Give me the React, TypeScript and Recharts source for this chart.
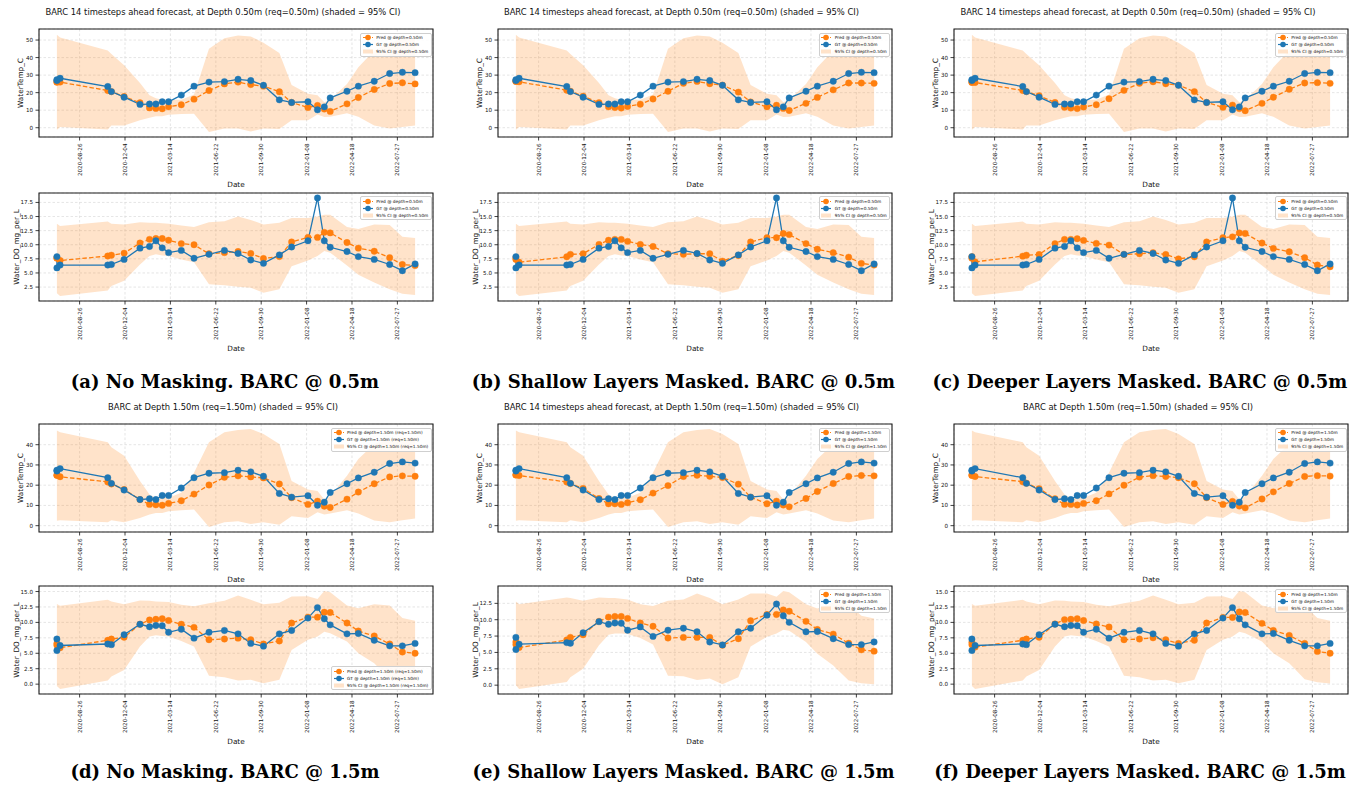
import React from 'react';
import { ComposedChart, Area, Line, XAxis, YAxis, CartesianGrid, ReferenceArea } from 'recharts';

// sampling dates (the first date carries two readings)
const DATES = [
  '2020-07-07', '2020-07-07', '2020-07-14', '2020-10-27', '2020-11-04', '2020-12-02',
  '2021-01-06', '2021-01-27', '2021-02-10', '2021-02-24', '2021-03-10', '2021-04-07',
  '2021-05-05', '2021-06-07', '2021-07-11', '2021-08-10', '2021-09-07', '2021-10-05',
  '2021-11-09', '2021-12-06', '2022-01-11', '2022-02-01', '2022-02-16', '2022-03-01',
  '2022-04-07', '2022-05-02', '2022-06-06', '2022-07-10', '2022-08-07', '2022-09-04',
];
const X_TICK_DATES = ['2020-08-26', '2020-12-04', '2021-03-14', '2021-06-22', '2021-09-30', '2022-01-08', '2022-04-18', '2022-07-27'];

// ---- depth 0.50m ----
const GT_TEMP_050 = [26.9, 27.4, 28.2, 23.5, 20.6, 17.4, 13.3, 13.5, 13.5, 14.8, 14.8, 18.6, 23.7, 26.0, 26.3, 27.6, 26.9, 24.2, 15.9, 14.4, 14.8, 10.2, 11.9, 17.0, 20.8, 23.7, 26.5, 30.9, 31.6, 31.4];
const GT_DO_050 = [7.9, 5.9, 6.4, 6.4, 6.5, 7.4, 9.4, 9.7, 10.7, 9.45, 8.6, 9.0, 7.6, 8.3, 9.0, 8.45, 7.3, 6.7, 8.2, 9.6, 10.7, 18.3, 10.7, 9.55, 8.8, 7.9, 7.4, 6.5, 5.4, 6.6];
const CI_TEMP_050_LO = [-1.6, -1.2, 0.4, -1.0, 1.3, 1.3, 4.2, 5.7, 6.5, 6.5, 7.4, 7.8, 8.0, -2.5, -0.4, -0.5, -2.2, -0.5, -0.7, 4.2, 4.2, 7.6, 6.1, 6.2, 8.3, 6.2, 1.3, -0.4, 0.4, 1.3];
const CI_TEMP_050_HI = [53.5, 53.0, 51.5, 44.0, 42.0, 35.6, 25.5, 18.5, 16.8, 16.0, 16.0, 15.9, 19.0, 45.0, 51.0, 52.6, 52.0, 48.5, 42.6, 24.4, 19.3, 18.5, 14.5, 16.0, 25.0, 34.5, 44.0, 48.5, 50.5, 51.0];
const CI_DO_050_LO = [1.8, 1.4, 0.9, 1.9, 2.7, 3.6, 6.5, 8.0, 8.3, 8.1, 8.0, 7.4, 6.9, 3.0, 2.8, 2.55, 2.4, 1.5, 2.1, 6.2, 7.2, 8.0, 8.9, 8.6, 6.3, 4.7, 3.3, 2.1, 1.3, 1.1];
const CI_DO_050_HI = [14.0, 13.7, 13.3, 14.1, 13.7, 13.6, 14.0, 13.9, 13.9, 13.8, 13.7, 13.4, 13.15, 14.0, 14.15, 15.0, 14.4, 13.6, 13.9, 14.75, 14.75, 15.0, 15.3, 15.3, 13.15, 12.8, 13.6, 13.5, 11.4, 11.2];

const PRED_TEMP_A = [26.2, 25.9, 26.0, 21.2, 20.6, 17.8, 14.2, 11.3, 11.0, 10.8, 11.9, 13.1, 16.3, 21.2, 25.0, 26.0, 24.6, 23.7, 20.5, 14.4, 11.5, 12.7, 10.6, 9.3, 13.6, 17.2, 21.8, 25.2, 25.6, 25.0];
const PRED_DO_A = [7.7, 7.6, 7.2, 8.0, 8.15, 8.5, 10.3, 10.96, 11.1, 11.1, 10.8, 10.2, 10.0, 8.4, 8.6, 8.8, 8.45, 7.56, 7.9, 10.5, 11.3, 11.3, 12.2, 12.1, 10.4, 9.4, 8.85, 7.7, 6.5, 6.3];
const PRED_TEMP_B = [26.5, 26.4, 26.2, 21.4, 20.8, 18.0, 14.3, 11.9, 11.5, 11.2, 12.1, 13.4, 16.4, 20.8, 25.3, 26.4, 25.1, 24.3, 20.3, 14.7, 11.9, 12.8, 11.0, 9.85, 13.9, 17.3, 21.6, 25.5, 25.5, 25.3];
const PRED_DO_B = [7.7, 7.4, 6.9, 7.86, 8.3, 8.4, 10.06, 10.8, 10.95, 10.95, 10.6, 10.06, 9.7, 8.4, 8.3, 8.4, 8.4, 7.1, 8.1, 10.5, 11.25, 11.25, 12.0, 11.8, 10.2, 9.2, 8.6, 7.8, 6.7, 6.4];
const PRED_TEMP_C = [26.0, 25.8, 25.8, 21.2, 20.6, 18.2, 14.4, 11.6, 11.2, 10.9, 11.8, 13.1, 16.5, 21.3, 25.3, 26.2, 25.1, 24.3, 20.6, 14.4, 11.6, 12.9, 10.9, 9.7, 13.9, 17.4, 21.9, 25.5, 25.7, 25.3];
const PRED_DO_C = [7.9, 7.6, 6.97, 7.98, 8.15, 8.27, 10.2, 10.95, 10.95, 11.07, 10.77, 10.24, 9.94, 8.27, 8.4, 8.6, 8.27, 7.5, 7.86, 10.5, 11.25, 11.4, 12.1, 12.0, 10.3, 9.35, 8.75, 7.7, 6.4, 6.1];

// ---- depth 1.50m ----
const GT_TEMP_150 = [27.0, 27.4, 28.2, 23.7, 20.9, 17.6, 12.9, 13.3, 12.9, 14.9, 14.9, 18.6, 23.7, 25.9, 26.2, 27.4, 26.6, 24.4, 15.9, 14.1, 14.8, 10.1, 11.6, 16.4, 20.7, 23.6, 26.4, 30.7, 31.5, 30.9];
const GT_DO_150 = [7.3, 5.45, 6.26, 6.5, 6.4, 8.0, 9.7, 9.3, 9.5, 9.45, 8.4, 8.9, 7.45, 8.4, 8.7, 8.15, 6.6, 6.15, 8.15, 8.7, 10.7, 12.4, 10.6, 9.6, 8.15, 8.2, 7.1, 6.2, 6.2, 6.6];
const CI_TEMP_150_LO = [2.2, 2.4, 2.7, 1.7, 2.7, 1.7, 3.8, 5.5, 6.3, 6.3, 7.1, 7.6, 8.0, -0.7, 1.7, 2.2, 0.8, 1.7, 0.5, 4.6, 3.8, 6.6, 5.5, 6.0, 7.6, 6.0, 2.5, 1.7, 2.7, 3.5];
const CI_TEMP_150_HI = [47.3, 47.0, 46.1, 41.2, 38.7, 34.5, 22.1, 15.4, 13.5, 13.8, 13.8, 16.3, 26.2, 41.2, 46.1, 47.3, 47.8, 45.3, 40.3, 22.1, 17.9, 17.1, 12.9, 14.6, 24.6, 32.9, 40.3, 42.8, 43.5, 43.5];
const CI_DO_150_LO = [0.0, -0.3, -0.8, 0.6, 1.25, 2.3, 6.1, 7.7, 7.9, 7.8, 7.7, 7.0, 6.1, 1.35, 1.1, 0.6, 0.7, 0.15, 0.7, 5.55, 7.2, 7.7, 8.5, 8.25, 6.9, 5.0, 3.4, 0.8, 0.3, 0.1];
const CI_DO_150_HI = [13.4, 13.0, 12.7, 13.65, 13.4, 12.95, 13.55, 13.5, 13.4, 13.35, 13.3, 12.85, 12.6, 13.1, 13.5, 14.35, 13.65, 12.95, 13.2, 14.2, 14.25, 13.8, 15.1, 14.9, 12.75, 12.3, 12.95, 12.75, 10.7, 10.25];
const CI_DO_E_LO = [0.4, 0.0, -0.6, 0.5, 1.2, 2.5, 6.1, 7.7, 7.9, 7.9, 7.8, 7.2, 6.2, 1.45, 1.35, 0.8, 1.0, 0.15, 1.2, 5.9, 7.4, 7.9, 8.45, 8.3, 6.6, 4.8, 3.0, 0.7, 0.3, 0.15];
const CI_DO_E_HI = [13.1, 12.8, 12.35, 13.4, 13.3, 12.9, 13.4, 13.3, 13.3, 13.2, 13.1, 12.35, 12.1, 12.9, 13.1, 14.0, 13.3, 12.35, 13.1, 14.0, 14.0, 13.5, 14.4, 14.2, 12.35, 11.7, 12.6, 12.4, 10.6, 10.2];

const PRED_TEMP_D = [24.9, 24.9, 24.2, 21.6, 20.6, 17.9, 12.9, 10.5, 10.3, 10.1, 11.0, 12.3, 15.6, 20.1, 23.9, 24.6, 24.1, 23.6, 20.6, 13.8, 10.5, 12.1, 9.6, 9.0, 13.1, 16.6, 20.7, 24.1, 24.6, 24.4];
const PRED_DO_D = [6.6, 6.3, 5.9, 7.1, 7.3, 7.6, 9.7, 10.4, 10.5, 10.6, 10.3, 9.7, 9.2, 7.2, 7.3, 7.45, 7.2, 6.5, 7.0, 9.9, 10.85, 10.85, 11.65, 11.6, 9.9, 8.6, 7.8, 6.5, 5.2, 5.0];
const PRED_TEMP_E = [25.1, 25.0, 24.75, 21.6, 20.8, 18.4, 13.4, 10.8, 10.8, 10.5, 11.3, 12.8, 16.1, 19.8, 24.3, 24.9, 24.4, 23.8, 20.5, 14.1, 10.8, 12.1, 10.2, 9.3, 13.4, 16.9, 20.8, 24.3, 24.75, 24.6];
const PRED_DO_E = [6.6, 6.2, 5.75, 6.9, 7.3, 7.7, 9.75, 10.4, 10.5, 10.5, 10.2, 9.5, 9.0, 7.2, 7.3, 7.3, 7.3, 6.1, 7.1, 9.85, 10.8, 10.8, 11.5, 11.3, 9.75, 8.5, 7.8, 6.4, 5.4, 5.2];
const PRED_TEMP_F = [25.0, 24.8, 24.3, 21.7, 21.0, 18.3, 13.3, 10.5, 10.5, 10.2, 11.0, 12.3, 15.7, 20.0, 24.0, 24.7, 24.3, 23.7, 20.7, 13.8, 10.5, 12.0, 9.7, 8.8, 13.2, 16.7, 20.8, 24.3, 24.7, 24.5];
const PRED_DO_F = [6.8, 6.4, 6.0, 7.1, 7.3, 7.6, 9.75, 10.45, 10.5, 10.6, 10.3, 9.75, 9.25, 7.2, 7.3, 7.5, 7.2, 6.6, 7.1, 9.9, 10.8, 10.8, 11.7, 11.6, 9.85, 8.7, 7.9, 6.6, 5.3, 5.0];

const TEMP_TICKS_050 = [0, 10, 20, 30, 40, 50];
const TEMP_TICKS_150 = [0, 10, 20, 30, 40];
const DO_TICKS_050 = [2.5, 5, 7.5, 10, 12.5, 15, 17.5];
const DO_TICKS_150 = [0, 2.5, 5, 7.5, 10, 12.5, 15];
const DO_TICKS_E = [0, 2.5, 5, 7.5, 10, 12.5];

const TITLE_FC_050 = 'BARC 14 timesteps ahead forecast, at Depth 0.50m (req=0.50m) (shaded = 95% CI)';
const TITLE_FC_150 = 'BARC 14 timesteps ahead forecast, at Depth 1.50m (req=1.50m) (shaded = 95% CI)';
const TITLE_150 = 'BARC at Depth 1.50m (req=1.50m) (shaded = 95% CI)';
const LEG_050 = ['Pred @ depth=0.50m', 'GT @ depth=0.50m', '95% CI @ depth=0.50m'];
const LEG_150 = ['Pred @ depth=1.50m', 'GT @ depth=1.50m', '95% CI @ depth=1.50m'];
const LEG_150_REQ = ['Pred @ depth=1.50m (req=1.50m)', 'GT @ depth=1.50m (req=1.50m)', '95% CI @ depth=1.50m (req=1.50m)'];

const ORANGE = '#ff7f0e';
const BLUE = '#1f77b4';
const INK = '#111';
const FONT = '"DejaVu Sans", sans-serif';

// subplot geometry
const CH_W = 450;
const FRAME_L = 39;
const FRAME_R = 433;
const FRAME_H = 108;
const M_TOP = 5;
const X_AXIS_H = 52;
const CH_H = M_TOP + FRAME_H + X_AXIS_H;

const toDay = (s: string) => Date.UTC(+s.slice(0, 4), +s.slice(5, 7) - 1, +s.slice(8, 10)) / 86400000;
const fmtDay = (v: number) => new Date(Math.round(v) * 86400000).toISOString().slice(0, 10);
const X_TICKS = X_TICK_DATES.map(toDay);

// matplotlib-style 5% margins
const padded = (vals: number[]): [number, number] => {
  const lo = Math.min(...vals);
  const hi = Math.max(...vals);
  const p = (hi - lo) * 0.05;
  return [lo - p, hi + p];
};

const DateTick = (props: any) => {
  const { x, y, payload } = props;
  return (
    <text x={x} y={y} transform={`rotate(-90, ${x}, ${y})`} textAnchor="end" dominantBaseline="central"
      fontSize={5.6} fill={INK} fontFamily={FONT}>
      {fmtDay(payload.value)}
    </text>
  );
};

const LegendBox: React.FC<{ labels: string[]; atBottom: boolean }> = ({ labels, atBottom }) => {
  const pos: React.CSSProperties = atBottom
    ? { bottom: CH_H - (M_TOP + FRAME_H) + 3.5 }
    : { top: M_TOP + 3.4 };
  const handle = (i: number) => (
    <svg width={10} height={7} style={{ display: 'block', flex: 'none' }}>
      {i < 2 ? (
        <>
          <line x1={0} x2={10} y1={3.5} y2={3.5} stroke={i === 0 ? ORANGE : BLUE} strokeWidth={1.2}
            strokeDasharray={i === 0 ? '3 1.5' : undefined} />
          <circle cx={5} cy={3.5} r={2.8} fill={i === 0 ? ORANGE : BLUE} />
        </>
      ) : (
        <rect x={0} y={1.5} width={10} height={4} fill={ORANGE} fillOpacity={0.22} />
      )}
    </svg>
  );
  return (
    <div style={{
      position: 'absolute', right: CH_W - FRAME_R + 1.2, ...pos, background: 'rgba(255,255,255,0.85)',
      border: '0.6px solid #cfcfcf', borderRadius: 2, padding: '0.5px 2.5px 0.5px 1.7px',
      fontFamily: FONT, fontSize: 4.3, color: INK,
    }}>
      {labels.map((l, i) => (
        <div key={l} style={{ display: 'flex', alignItems: 'center', height: 7, whiteSpace: 'nowrap' }}>
          {handle(i)}
          <span style={{ marginLeft: 3.5 }}>{l}</span>
        </div>
      ))}
    </div>
  );
};

interface SubPlotProps {
  top: number;
  yLabel: string;
  labelX: number;
  gt: number[];
  pred: number[];
  lo: number[];
  hi: number[];
  yTicks: number[];
  decimals: number;
  legend: string[];
  legendBottom?: boolean;
}

const SubPlot: React.FC<SubPlotProps> = ({ top, yLabel, labelX, gt, pred, lo, hi, yTicks, decimals, legend, legendBottom }) => {
  const data = DATES.map((d, i) => ({ t: toDay(d), gt: gt[i], pred: pred[i], ci: [lo[i], hi[i]] }));
  const xDom = padded(data.map(r => r.t));
  const yDom = padded([...gt, ...pred, ...lo, ...hi]);

  return (
    <div style={{ position: 'absolute', left: 0, top: top - M_TOP, width: CH_W, height: CH_H }}>
      <ComposedChart width={CH_W} height={CH_H} data={data}
        margin={{ top: M_TOP, right: CH_W - FRAME_R, bottom: 0, left: 0 }}>
        <CartesianGrid stroke="#d4d4d4" strokeDasharray="2.5 2" strokeWidth={0.6} />
        <XAxis type="number" dataKey="t" domain={xDom} ticks={X_TICKS} allowDataOverflow interval={0}
          height={X_AXIS_H} tickSize={3.5} tickMargin={3} axisLine={false}
          tickLine={{ stroke: INK, strokeWidth: 0.8 }} tick={<DateTick />}
          label={{ value: 'Date', position: 'insideBottom', offset: 2, fontSize: 7.3, fill: INK, fontFamily: FONT }} />
        <YAxis type="number" domain={yDom} ticks={yTicks} allowDataOverflow interval={0}
          width={FRAME_L} tickSize={3.5} tickMargin={2.5} axisLine={false}
          tickLine={{ stroke: INK, strokeWidth: 0.8 }}
          tick={{ fontSize: 5.6, fill: INK, fontFamily: FONT }}
          tickFormatter={(v: number) => v.toFixed(decimals)}
          label={{ value: yLabel, angle: -90, position: 'insideLeft', offset: labelX, fontSize: 7.3, fill: INK, fontFamily: FONT, style: { textAnchor: 'middle' } }} />
        <Area type="linear" dataKey="ci" stroke="none" fill={ORANGE} fillOpacity={0.22} isAnimationActive={false} />
        <Line type="linear" dataKey="pred" stroke={ORANGE} strokeWidth={1.3} strokeDasharray="4.5 2.2"
          dot={{ r: 3.2, fill: ORANGE, stroke: ORANGE, strokeWidth: 0.4, strokeDasharray: '0' }}
          activeDot={false} isAnimationActive={false} />
        <Line type="linear" dataKey="gt" stroke={BLUE} strokeWidth={1.3}
          dot={{ r: 3.2, fill: BLUE, stroke: BLUE, strokeWidth: 0.4 }}
          activeDot={false} isAnimationActive={false} />
        <ReferenceArea x1={xDom[0]} x2={xDom[1]} y1={yDom[0]} y2={yDom[1]} fill="none" stroke="#1a1a1a"
          strokeWidth={1.1} ifOverflow="visible" />
      </ComposedChart>
      <LegendBox labels={legend} atBottom={!!legendBottom} />
    </div>
  );
};

interface PanelSpec {
  x: number;
  y: number;
  doTop: number;
  title: string;
  caption: string;
  legend: string[];
  predTemp: number[];
  predDo: number[];
  gtTemp: number[];
  gtDo: number[];
  tempLo: number[];
  tempHi: number[];
  doLo: number[];
  doHi: number[];
  tempTicks: number[];
  doTicks: number[];
  doLegendBottom?: boolean;
}

const TOP_ROW = { y: 0, doTop: 192.7 };
const BOTTOM_ROW = { y: 395, doTop: 190.7 };

const PANELS: PanelSpec[] = [
  { x: 0, ...TOP_ROW, title: TITLE_FC_050, caption: '(a) No Masking. BARC @ 0.5m', legend: LEG_050,
    predTemp: PRED_TEMP_A, predDo: PRED_DO_A, gtTemp: GT_TEMP_050, gtDo: GT_DO_050,
    tempLo: CI_TEMP_050_LO, tempHi: CI_TEMP_050_HI, doLo: CI_DO_050_LO, doHi: CI_DO_050_HI,
    tempTicks: TEMP_TICKS_050, doTicks: DO_TICKS_050 },
  { x: 458.5, ...TOP_ROW, title: TITLE_FC_050, caption: '(b) Shallow Layers Masked. BARC @ 0.5m', legend: LEG_050,
    predTemp: PRED_TEMP_B, predDo: PRED_DO_B, gtTemp: GT_TEMP_050, gtDo: GT_DO_050,
    tempLo: CI_TEMP_050_LO, tempHi: CI_TEMP_050_HI, doLo: CI_DO_050_LO, doHi: CI_DO_050_HI,
    tempTicks: TEMP_TICKS_050, doTicks: DO_TICKS_050 },
  { x: 915, ...TOP_ROW, title: TITLE_FC_050, caption: '(c) Deeper Layers Masked. BARC @ 0.5m', legend: LEG_050,
    predTemp: PRED_TEMP_C, predDo: PRED_DO_C, gtTemp: GT_TEMP_050, gtDo: GT_DO_050,
    tempLo: CI_TEMP_050_LO, tempHi: CI_TEMP_050_HI, doLo: CI_DO_050_LO, doHi: CI_DO_050_HI,
    tempTicks: TEMP_TICKS_050, doTicks: DO_TICKS_050 },
  { x: 0, ...BOTTOM_ROW, title: TITLE_150, caption: '(d) No Masking. BARC @ 1.5m', legend: LEG_150_REQ,
    predTemp: PRED_TEMP_D, predDo: PRED_DO_D, gtTemp: GT_TEMP_150, gtDo: GT_DO_150,
    tempLo: CI_TEMP_150_LO, tempHi: CI_TEMP_150_HI, doLo: CI_DO_150_LO, doHi: CI_DO_150_HI,
    tempTicks: TEMP_TICKS_150, doTicks: DO_TICKS_150, doLegendBottom: true },
  { x: 458.5, ...BOTTOM_ROW, title: TITLE_FC_150, caption: '(e) Shallow Layers Masked. BARC @ 1.5m', legend: LEG_150,
    predTemp: PRED_TEMP_E, predDo: PRED_DO_E, gtTemp: GT_TEMP_150, gtDo: GT_DO_150,
    tempLo: CI_TEMP_150_LO, tempHi: CI_TEMP_150_HI, doLo: CI_DO_E_LO, doHi: CI_DO_E_HI,
    tempTicks: TEMP_TICKS_150, doTicks: DO_TICKS_E },
  { x: 915, ...BOTTOM_ROW, title: TITLE_150, caption: '(f) Deeper Layers Masked. BARC @ 1.5m', legend: LEG_150,
    predTemp: PRED_TEMP_F, predDo: PRED_DO_F, gtTemp: GT_TEMP_150, gtDo: GT_DO_150,
    tempLo: CI_TEMP_150_LO, tempHi: CI_TEMP_150_HI, doLo: CI_DO_150_LO, doHi: CI_DO_150_HI,
    tempTicks: TEMP_TICKS_150, doTicks: DO_TICKS_150 },
];

const Panel: React.FC<{ p: PanelSpec }> = ({ p }) => (
  <div style={{ position: 'absolute', left: p.x, top: p.y, width: CH_W, height: 395 }}>
    <div style={{ position: 'absolute', left: -2, top: 6, width: CH_W, textAlign: 'center', fontFamily: FONT, fontSize: 8.4, lineHeight: '12px', color: INK, whiteSpace: 'nowrap' }}>
      {p.title}
    </div>
    <SubPlot top={29.3} yLabel="WaterTemp_C" labelX={20} gt={p.gtTemp} pred={p.predTemp}
      lo={p.tempLo} hi={p.tempHi} yTicks={p.tempTicks} decimals={0} legend={p.legend} />
    <SubPlot top={p.doTop} yLabel="Water_DO_mg_per_L" labelX={16} gt={p.gtDo} pred={p.predDo}
      lo={p.doLo} hi={p.doHi} yTicks={p.doTicks} decimals={1} legend={p.legend} legendBottom={p.doLegendBottom} />
    <div style={{ position: 'absolute', left: 0, top: (p.y === 0 ? 382 : 377) - 14, width: CH_W, textAlign: 'center', fontFamily: '"DejaVu Serif", serif', fontWeight: 'bold', fontSize: 18, lineHeight: '28px', color: '#000', whiteSpace: 'nowrap' }}>
      {p.caption}
    </div>
  </div>
);

export default function App() {
  return (
    <div style={{ position: 'absolute', left: 0, top: 0, width: 1353, height: 790, background: '#fff', overflow: 'hidden' }}>
      {PANELS.map(p => <Panel key={p.caption} p={p} />)}
    </div>
  );
}
